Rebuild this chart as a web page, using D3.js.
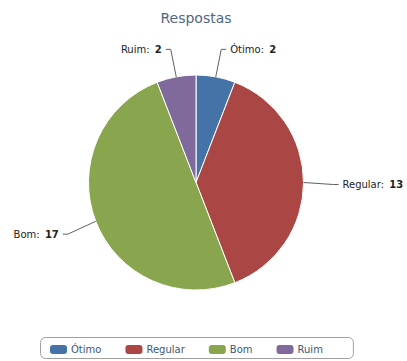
<!DOCTYPE html>
<html><head><meta charset="utf-8">
<script src="https://cdn.jsdelivr.net/npm/d3@7"></script>
<style>body{margin:0;background:#fff}svg{display:block}</style>
</head><body>
<script>
const title = "Respostas";
const categories = ["Ótimo", "Regular", "Bom", "Ruim"];
const values = [2, 13, 17, 2];
const colors = ["#4572A7", "#AA4643", "#89A54E", "#80699B"];

const W = 407, H = 361;
const cx = 196, cy = 182.5, r = 107.5, dist = 30;
const font = "'DejaVu Sans', sans-serif";

const svg = d3.select("body").append("svg").attr("width", W).attr("height", H);

svg.append("text").attr("x", cx).attr("y", 23).attr("text-anchor", "middle")
  .attr("font-family", font).attr("font-size", 14).attr("fill", "#506784").text(title);

const data = categories.map((c, i) => ({name: c, value: values[i], color: colors[i]}));
const pie = d3.pie().sort(null).value(d => d.value);
const arcs = pie(data);
const arc = d3.arc().innerRadius(0).outerRadius(r);

const g = svg.append("g").attr("transform", `translate(${cx},${cy})`);
g.selectAll("path.slice").data(arcs).join("path").attr("class", "slice")
  .attr("d", arc).attr("fill", d => d.data.color)
  .attr("stroke", "#fff").attr("stroke-width", 1).attr("stroke-linejoin", "round");

// labels with connectors
arcs.forEach(a => {
  const m = (a.startAngle + a.endAngle) / 2;
  const s = Math.sin(m), c = -Math.cos(m);
  const ex = s * r, ey = c * r;
  const bx = s * (r + dist), by = c * (r + dist) + 2;
  const right = s >= 0;
  const hx = bx + (right ? 5 : -5);
  g.append("path").attr("d", `M${ex},${ey}L${bx},${by}L${hx},${by}`)
    .attr("fill", "none").attr("stroke", "#606060").attr("stroke-width", 1);
  const t = g.append("text").attr("x", hx + (right ? 4 : -4)).attr("y", by + 3.5)
    .attr("text-anchor", right ? "start" : "end")
    .attr("font-family", font).attr("font-size", 10).attr("fill", "#222");
  t.append("tspan").text(a.data.name + ": ");
  t.append("tspan").attr("font-weight", "bold").attr("dx", 2).text(a.data.value);
});

// legend
const lg = svg.append("g");
const box = lg.append("rect");
let x = 10;
const items = [];
data.forEach(d => {
  const it = lg.append("g").attr("transform", `translate(${x},0)`);
  it.append("rect").attr("x", 0).attr("y", 8).attr("width", 17).attr("height", 9)
    .attr("rx", 3).attr("fill", d.color);
  const t = it.append("text").attr("x", 21).attr("y", 16).attr("font-family", font)
    .attr("font-size", 10).attr("fill", "#3E576F").text(d.name);
  const w = t.node().getComputedTextLength();
  x += 21 + w + 24;
});
const bw = x + 6;
box.attr("x", 0.5).attr("y", 0.5).attr("width", bw).attr("height", 21).attr("rx", 5)
  .attr("fill", "#fff").attr("stroke", "#a0a0a0").attr("stroke-width", 1);
lg.attr("transform", `translate(${Math.round(cx - bw / 2)},337)`);
</script>
</body></html>
